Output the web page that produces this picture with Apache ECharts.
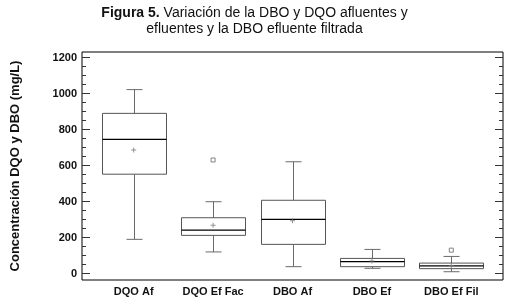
<!DOCTYPE html>
<html>
<head>
<meta charset="utf-8">
<script src="https://cdn.jsdelivr.net/npm/echarts@6/dist/echarts.min.js"></script>
<style>
  html, body { margin: 0; padding: 0; background: #fff; }
  #chart { width: 509px; height: 305px; }
</style>
</head>
<body>
<div id="chart"></div>
<script>
// categorias y estadisticos
const categories = ['DQO Af', 'DQO Ef Fac', 'DBO Af', 'DBO Ef', 'DBO Ef Fil'];
const whiskerLow = [190, 120, 38, 29, 10];
const q1 = [552, 212, 162, 38, 27];
const median = [746, 241, 301, 66, 42];
const q3 = [890, 310, 407, 84, 58];
const whiskerHigh = [1022, 399, 621, 134, 95];
const means = [686, 268, 293, 70, 45];
const outliers = [['DQO Ef Fac', 631], ['DBO Ef Fil', 130]];
const yLabels = [0, 200, 400, 600, 800, 1000, 1200];
const yMinor = [50, 100, 150, 250, 300, 350, 450, 500, 550, 650, 700, 750, 850, 900, 950, 1050, 1100, 1150];

const yMin = -36, yMax = 1231;
const font = '"Liberation Sans", Arial, sans-serif';
const boxW = 64;
const capW = 16;

const chart = echarts.init(document.getElementById('chart'));

/* eje y que solo dibuja marcas */
function tickAxis(position, values, len, withLabels) {
  return {
    type: 'value', gridIndex: 1, position: position, min: yMin, max: yMax,
    axisLine: { show: false },
    splitLine: { show: false },
    axisTick: { show: true, inside: true, length: len, customValues: values, lineStyle: { color: '#333' } },
    axisLabel: withLabels ? {
      show: true, customValues: values, margin: 5, formatter: v => String(v),
      fontFamily: font, fontWeight: 'bold', fontSize: 11, color: '#111'
    } : { show: false }
  };
}

/* caja + bigotes dibujados con las escalas del eje */
function renderBox(params, api) {
  const x = api.value(0);
  const pLow = api.coord([x, api.value(1)]);
  const pQ1 = api.coord([x, api.value(2)]);
  const pMed = api.coord([x, api.value(3)]);
  const pQ3 = api.coord([x, api.value(4)]);
  const pHigh = api.coord([x, api.value(5)]);
  const cx = Math.round(pMed[0]) + 0.5;
  const grey = { stroke: '#6a6a6a', lineWidth: 1, fill: null };
  const line = (x1, y1, x2, y2, style) => ({ type: 'line', shape: { x1, y1, x2, y2 }, style });
  return {
    type: 'group',
    children: [
      line(cx, pQ3[1], cx, pHigh[1], grey),
      line(cx, pQ1[1], cx, pLow[1], grey),
      line(cx - capW / 2, pHigh[1], cx + capW / 2, pHigh[1], grey),
      line(cx - capW / 2, pLow[1], cx + capW / 2, pLow[1], grey),
      {
        type: 'rect',
        shape: { x: cx - boxW / 2, y: pQ3[1], width: boxW, height: pQ1[1] - pQ3[1] },
        style: { stroke: '#555', lineWidth: 1, fill: '#fff' }
      },
      line(cx - boxW / 2, pMed[1], cx + boxW / 2, pMed[1], { stroke: '#000', lineWidth: 1.3 })
    ]
  };
}

const option = {
  animation: false,
  backgroundColor: '#fff',
  title: {
    text: '{b|Figura 5.} Variación de la DBO y DQO afluentes y\nefluentes y la DBO efluente filtrada',
    left: 'center', top: 0,
    textStyle: {
      fontFamily: font, fontSize: 14, fontWeight: 'normal', color: '#111', lineHeight: 16,
      rich: { b: { fontFamily: font, fontSize: 14, fontWeight: 'bold', color: '#111' } }
    }
  },
  grid: [
    { left: 94, right: 18, top: 52, bottom: 25 },
    { left: 82, right: 6, top: 52, bottom: 25, show: true, borderColor: '#000', borderWidth: 1, backgroundColor: 'transparent' }
  ],
  xAxis: [
    {
      type: 'category', gridIndex: 0, data: categories,
      axisLine: { show: false }, axisTick: { show: false },
      axisLabel: { interval: 0, fontFamily: font, fontWeight: 'bold', fontSize: 11, color: '#111', margin: 6 }
    },
    { type: 'value', gridIndex: 1, show: false }
  ],
  yAxis: [
    { type: 'value', gridIndex: 0, min: yMin, max: yMax, show: false },
    Object.assign(tickAxis('left', yLabels, 8, true), {
      name: 'Concentración DQO y DBO (mg/L)', nameLocation: 'middle', nameGap: 60, nameRotate: 90,
      nameTextStyle: { fontFamily: font, fontWeight: 'bold', fontSize: 13, color: '#111' }
    }),
    tickAxis('left', yMinor, 4, false),
    tickAxis('right', yLabels, 8, false),
    tickAxis('right', yMinor, 4, false)
  ],
  series: [
    {
      type: 'custom', xAxisIndex: 0, yAxisIndex: 0,
      encode: { x: 0, y: [1, 2, 3, 4, 5] },
      data: categories.map((c, i) => [i, whiskerLow[i], q1[i], median[i], q3[i], whiskerHigh[i]]),
      renderItem: renderBox
    },
    {
      type: 'scatter', xAxisIndex: 0, yAxisIndex: 0,
      data: categories.map((c, i) => [c, means[i]]),
      symbol: 'path://M0,1.6H4V2.4H0Z M1.6,0H2.4V4H1.6Z', symbolSize: 5,
      itemStyle: { color: '#777' }
    },
    {
      type: 'scatter', xAxisIndex: 0, yAxisIndex: 0, data: outliers,
      symbol: 'rect', symbolSize: 4,
      itemStyle: { color: '#fff', borderColor: '#666', borderWidth: 1 }
    }
  ]
};

chart.setOption(option);
</script>
</body>
</html>
